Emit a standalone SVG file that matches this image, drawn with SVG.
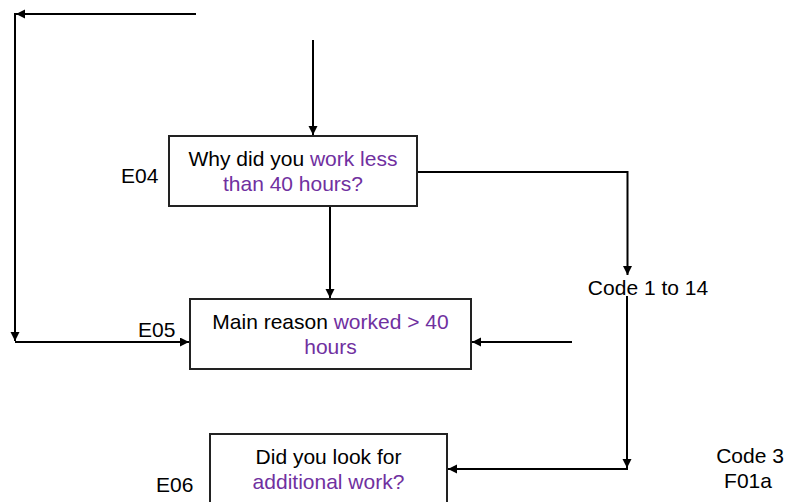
<svg xmlns="http://www.w3.org/2000/svg" width="791" height="502" viewBox="0 0 791 502">
<defs>
<style>
text{font-family:"Liberation Sans",Arial,sans-serif;font-size:21px;fill:#000}
.p{fill:#7030A0}
.box{fill:#fff;stroke:#222;stroke-width:2}
.c{fill:none;stroke:#000;stroke-width:2}
</style>
<marker id="ah" markerWidth="10" markerHeight="10" refX="9" refY="4.5" orient="auto" markerUnits="userSpaceOnUse">
<path d="M0,0 L9,4.5 L0,9 z" fill="#000"/>
</marker>
</defs>
<rect width="791" height="502" fill="#fff"/>
<g id="connectors">
<path class="c" d="M196,14 H16" marker-end="url(#ah)"/>
<path class="c" d="M15,13 V341" marker-end="url(#ah)"/>
<path class="c" d="M15,342 H189" marker-end="url(#ah)"/>
<path class="c" d="M313,40 V135" marker-end="url(#ah)"/>
<path class="c" d="M330,206 V298" marker-end="url(#ah)"/>
<path class="c" d="M417,172 H627.5 V275" marker-end="url(#ah)"/>
<path class="c" d="M572,342 H472" marker-end="url(#ah)"/>
<path class="c" d="M627,296 V468" marker-end="url(#ah)"/>
<path class="c" d="M628,469 H448" marker-end="url(#ah)"/>
</g>
<g id="E04">
<rect class="box" x="169" y="136" width="248" height="70"/>
<text x="293" y="166" text-anchor="middle">Why did you <tspan class="p">work less</tspan></text>
<text x="293" y="190.5" text-anchor="middle" class="p">than 40 hours?</text>
<text x="121" y="183">E04</text>
</g>
<g id="E05">
<rect class="box" x="190" y="299" width="281" height="70"/>
<text x="330.5" y="329" text-anchor="middle">Main reason <tspan class="p">worked &gt; 40</tspan></text>
<text x="330.5" y="354" text-anchor="middle" class="p">hours</text>
<text x="138" y="337">E05</text>
</g>
<g id="E06">
<rect class="box" x="210" y="434" width="237" height="80"/>
<text x="328.5" y="464" text-anchor="middle">Did you look for</text>
<text x="328.5" y="489" text-anchor="middle" class="p">additional work?</text>
<text x="156" y="492">E06</text>
</g>
<g id="code1to14">
<text x="648" y="295" text-anchor="middle">Code 1 to 14</text>
</g>
<g id="code3">
<text x="750" y="463" text-anchor="middle">Code 3</text>
<text x="748" y="488" text-anchor="middle">F01a</text>
</g>
</svg>
